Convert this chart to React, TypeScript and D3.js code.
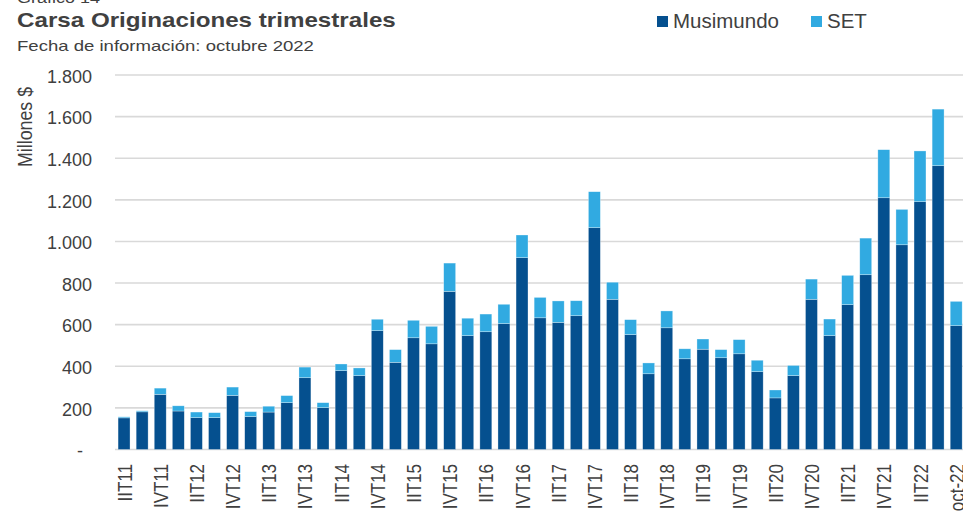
import React from "react";
import * as d3 from "d3";

const quarters = [
  "IIT11", "IIIT11", "IVT11", "IT12", "IIT12", "IIIT12", "IVT12", "IT13", "IIT13", "IIIT13",
  "IVT13", "IT14", "IIT14", "IIIT14", "IVT14", "IT15", "IIT15", "IIIT15", "IVT15", "IT16",
  "IIT16", "IIIT16", "IVT16", "IT17", "IIT17", "IIIT17", "IVT17", "IT18", "IIT18", "IIIT18",
  "IVT18", "IT19", "IIT19", "IIIT19", "IVT19", "IT20", "IIT20", "IIIT20", "IVT20", "IT21",
  "IIT21", "IIIT21", "IVT21", "IT22", "IIT22", "IIIT22", "oct-22",
];

// millones de $
const musimundo = [
  152, 181, 265, 185, 153, 153, 260, 158, 180, 225,
  345, 201, 379, 355, 571, 419, 537, 508, 760, 547,
  566, 605, 922, 633, 611, 643, 1066, 722, 552, 364,
  585, 436, 482, 441, 460, 374, 248, 355, 722, 547,
  696, 840, 1210, 984, 1191, 1364, 595,
];

const set = [
  5, 5, 30, 25, 27, 24, 40, 24, 28, 34,
  51, 24, 32, 37, 55, 61, 84, 84, 136, 84,
  85, 93, 109, 98, 103, 72, 173, 82, 72, 52,
  81, 48, 49, 39, 68, 55, 38, 49, 97, 80,
  141, 176, 231, 170, 244, 272, 117,
];

const yTicks = [0, 200, 400, 600, 800, 1000, 1200, 1400, 1600, 1800];

const series = ["Musimundo", "SET"];
const colors = ["#05508f", "#31aae1"];

const W = 963;
const H = 512;
const left = 115;
const top = 75;
const bottom = 449.5;
const step = 18.09;

const fmt = (v: number) => (v === 0 ? "-" : d3.format(",")(v).replace(/,/g, "."));

export default function App() {
  const rows = quarters.map((q, i) => ({ q, Musimundo: musimundo[i], SET: set[i] }));
  const stack = d3.stack<any>().keys(series)(rows);

  const x = d3
    .scaleBand()
    .domain(quarters)
    .range([left, left + step * quarters.length])
    .paddingInner(0.34)
    .paddingOuter(0.17);
  const y = d3.scaleLinear().domain([0, 1800]).range([bottom, top]);

  const font = "Arial, 'Liberation Sans', sans-serif";
  const ink = "#404040";

  return (
    <svg
      width={W}
      height={H}
      style={{ position: "absolute", left: 0, top: 0, background: "#fff" }}
      fontFamily={font}
    >
      {/* encabezado */}
      <g transform="translate(17,0) scale(1.24,1)">
        <text x={0} y={3} fontSize={14.5} fill={ink}>Gráfico 14</text>
        <text x={0} y={27} fontSize={19.5} fontWeight="bold" fill={ink}>
          Carsa Originaciones trimestrales
        </text>
      </g>
      <text transform="translate(17,50.5) scale(1.28,1)" fontSize={14.5} fill={ink}>
        Fecha de información: octubre 2022
      </text>

      {/* leyenda */}
      {series.map((s, i) => {
        const lx = [657, 811][i];
        return (
          <g key={s}>
            <rect x={lx} y={16} width={11} height={11} fill={colors[i]} />
            <text x={lx + 16} y={27.5} fontSize={20.5} fill={ink}>{s}</text>
          </g>
        );
      })}

      {/* grilla */}
      {yTicks.map((t) => (
        <g key={t}>
          <line x1={left} x2={W} y1={y(t)} y2={y(t)} stroke="#d9d9d9" strokeWidth={1.6} />
          <text
            x={t === 0 ? 83 : 92}
            y={y(t) + 7.7}
            textAnchor="end"
            fontSize={18}
            fill={ink}
          >
            {fmt(t)}
          </text>
        </g>
      ))}

      <text
        transform="translate(31.5,127) scale(1.18,1) rotate(-90)"
        textAnchor="middle"
        fontSize={17.8}
        fill={ink}
      >
        Millones $
      </text>

      {/* barras */}
      {stack.map((layer, si) => (
        <g key={layer.key} fill={colors[si]}>
          {layer.map((d, i) => (
            <rect
              key={i}
              x={x(quarters[i])}
              y={y(d[1])}
              width={x.bandwidth()}
              height={y(d[0]) - y(d[1])}
              stroke="#ffffff"
              strokeOpacity={0.5}
              strokeWidth={0.6}
            />
          ))}
        </g>
      ))}

      {/* etiquetas eje x */}
      {quarters.map((q, i) =>
        i % 2 === 0 ? (
          <text
            key={q}
            transform={`translate(${(x(q) as number) + x.bandwidth() / 2 + 7.5},464) scale(1.23,1) rotate(-90)`}
            textAnchor="end"
            fontSize={17}
            fill={ink}
          >
            {q}
          </text>
        ) : null
      )}
    </svg>
  );
}
